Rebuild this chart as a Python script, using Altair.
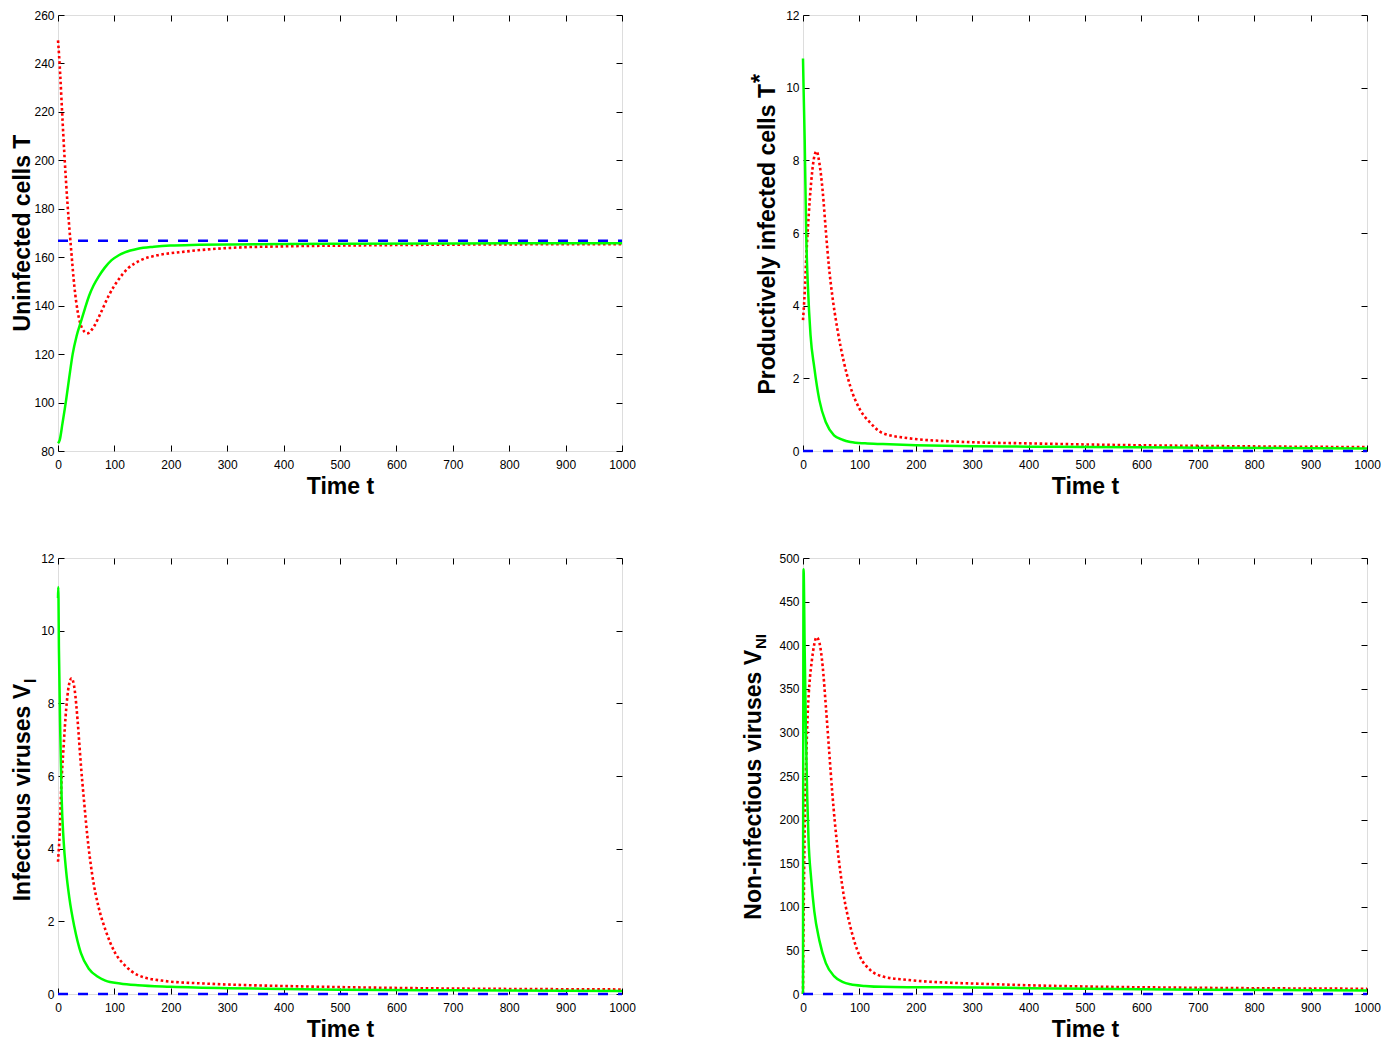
import altair as alt
import pandas as pd

W, H = 564, 436
FONT = "Liberation Sans"

x_ticks = list(range(0, 1001, 100))

# ---------------- Panel 1: Uninfected cells T ----------------
t1_green = [0, 3, 8, 14.5, 20, 26, 33, 40.5, 48, 55, 63, 72, 83, 95, 107, 118.5, 141.6, 170, 199, 250, 309, 400, 500, 700, 1000]
v1_green = [83.2, 84.5, 91.5, 101.2, 110.5, 120, 127.5, 133.3, 139, 144, 148.3, 152, 155.7, 158.8, 160.7, 162, 163.5, 164.3, 164.8, 165.1, 165.3, 165.5, 165.6, 165.7, 165.8]
t1_red = [0, 2, 4, 7.5, 11.5, 17, 23, 29, 35, 43, 52, 63.5, 75, 89.6, 107, 124, 147, 176, 217, 309, 400, 500, 700, 1000]
v1_red = [249.5, 243, 235, 219, 201.7, 181.6, 164, 148, 137.4, 130.6, 128.6, 131.3, 136.6, 144, 150.7, 155.4, 158.8, 160.8, 162.1, 163.9, 164.5, 164.8, 165.2, 165.4]
v1_blue = 166.8
y1_domain = [80, 260]
y1_ticks = list(range(80, 261, 20))

# ---------------- Panel 2: Productively infected cells T* ----------------
t2_green = [0, 1, 3, 5.8, 8.7, 13.3, 20, 29, 40.5, 55, 70, 84, 110, 141.6, 200, 302, 400, 500, 700, 1000]
v2_green = [10.8, 10.0, 8.56, 5.88, 4.54, 3.2, 2.3, 1.4, 0.79, 0.43, 0.31, 0.25, 0.21, 0.19, 0.16, 0.13, 0.12, 0.107, 0.09, 0.07]
t2_red = [0, 3, 5.8, 9.8, 14.5, 19, 24, 29, 35, 40.5, 46, 52, 60.7, 72, 84, 101, 118.5, 141.6, 188, 257, 302, 400, 500, 700, 850, 1000]
v2_red = [3.6, 4.36, 5.34, 6.41, 7.4, 8.02, 8.25, 7.93, 7.13, 6.06, 5.07, 4.27, 3.38, 2.48, 1.77, 1.14, 0.79, 0.49, 0.35, 0.27, 0.24, 0.21, 0.18, 0.14, 0.12, 0.107]
v2_blue = 0
y2_domain = [0, 12]
y2_ticks = list(range(0, 13, 2))

# ---------------- Panel 3: Infectious viruses V_I ----------------
t3_green = [0, 0.5, 1.7, 4, 6.4, 9.8, 14.5, 20, 29, 40.5, 55, 70, 84, 110, 141.6, 200, 302, 400, 500, 700, 1000]
v3_green = [10.9, 11.2, 9.45, 7.2, 5.43, 4.26, 3.37, 2.66, 1.85, 1.13, 0.69, 0.48, 0.37, 0.29, 0.24, 0.2, 0.16, 0.14, 0.12, 0.1, 0.08]
t3_red = [0, 3, 5.8, 9.8, 14.5, 19, 24, 29.5, 35, 40.5, 46, 52, 60.7, 72, 84, 101, 118.5, 141.6, 188, 257, 302, 400, 500, 700, 850, 1000]
v3_red = [3.64, 4.44, 5.7, 6.77, 7.84, 8.47, 8.69, 8.38, 7.48, 6.32, 5.34, 4.35, 3.28, 2.39, 1.77, 1.14, 0.79, 0.52, 0.36, 0.29, 0.26, 0.22, 0.19, 0.15, 0.135, 0.125]
v3_blue = 0
y3_domain = [0, 12]
y3_ticks = list(range(0, 13, 2))

# ---------------- Panel 4: Non-infectious viruses V_NI ----------------
t4_green = [0, 1, 3, 5.2, 7.5, 9.8, 14.5, 20, 29, 40.5, 55, 70, 84, 110, 141.6, 200, 302, 400, 500, 700, 1000]
v4_green = [0, 487, 394, 300, 226, 177, 132, 95, 61.5, 35.4, 20.5, 14, 11.2, 9.3, 8.2, 7.8, 7.5, 6.7, 6, 5, 4.1]
t4_red = [0, 1, 3, 5.8, 8.7, 11.5, 15.6, 20, 24, 29, 35, 40.5, 46, 52, 60.7, 72, 84, 101, 118.5, 141.6, 188, 257, 302, 400, 500, 700, 1000]
v4_red = [0, 80, 190, 270, 327, 356, 382, 401, 409, 403, 375, 330, 282, 230, 170, 114, 77, 43, 28, 20, 16, 13, 12, 10, 8.6, 7.1, 6]
v4_blue = 0
y4_domain = [0, 500]
y4_ticks = list(range(0, 501, 50))

titles = [
    ["Uninfected cells T", ""],
    ["Productively infected cells T", "*"],
    ["Infectious viruses V", "I"],
    ["Non-infectious viruses V", "NI"],
]
x_title = "Time t"


def xscale():
    return alt.Scale(domain=[0, 1000], nice=False, zero=False)


def make_panel(tg, vg, tr, vr, vb, ydom, yticks, title, sub, main_x, main_y, sub_x, sub_y, sub_size):
    ys = alt.Scale(domain=ydom, nice=False, zero=False)
    df_r = pd.DataFrame({"t": tr, "v": vr})
    df_g = pd.DataFrame({"t": tg, "v": vg})
    df_b = pd.DataFrame({"t": [0, 1000], "v": [vb, vb]})

    bottom = alt.Axis(orient="bottom", values=x_ticks, title=x_title, offset=-6, tickSize=6, format="d",
                      domain=False, grid=False, labelPadding=8, labelFlush=False, labelOverlap=False,
                      titleFontSize=23, titleFontWeight="bold", titlePadding=5, titleFont=FONT,
                      labelFont=FONT, labelFontSize=12, labelColor="black", tickColor="black",
                      titleColor="black")
    left = alt.Axis(orient="left", values=yticks, title=None, offset=-6, tickSize=6, format="d",
                    domain=False, grid=False, labelPadding=4, labelFlush=False, labelOverlap=False,
                    labelFont=FONT, labelFontSize=12, labelColor="black", tickColor="black")
    top = alt.Axis(orient="top", values=x_ticks, title=None, labels=False, offset=-6, tickSize=6,
                   domain=False, grid=False, tickColor="black", minExtent=0)
    right = alt.Axis(orient="right", values=yticks, title=None, labels=False, offset=-6, tickSize=6,
                     domain=False, grid=False, tickColor="black", minExtent=0)

    red = alt.Chart(df_r).mark_line(color="#FF0000", strokeWidth=2.6, strokeDash=[2.6, 2.6],
                                    interpolate="monotone", clip=False).encode(
        x=alt.X("t:Q", scale=xscale(), axis=bottom),
        y=alt.Y("v:Q", scale=ys, axis=left),
    )
    green = alt.Chart(df_g).mark_line(color="#00FF00", strokeWidth=2.5,
                                      interpolate="monotone", clip=False).encode(
        x=alt.X("t:Q", scale=xscale(), axis=top),
        y=alt.Y("v:Q", scale=ys, axis=right),
    )
    blue = alt.Chart(df_b).mark_line(color="#0000FF", strokeWidth=2.5, strokeDash=[10, 10],
                                     clip=False).encode(
        x=alt.X("t:Q", scale=xscale(), axis=None),
        y=alt.Y("v:Q", scale=ys, axis=None),
    )
    layers = [red, green, blue]
    if sub:
        main_txt = alt.Chart(pd.DataFrame({"s": [title]})).mark_text(
            angle=270, align="right", baseline="alphabetic", font=FONT, fontSize=23,
            fontWeight="bold", color="black").encode(text="s:N", x=alt.value(main_x), y=alt.value(main_y))
        sub_txt = alt.Chart(pd.DataFrame({"s": [sub]})).mark_text(
            angle=270, align="left", baseline="alphabetic", font=FONT, fontSize=sub_size,
            fontWeight="bold", color="black").encode(text="s:N", x=alt.value(sub_x), y=alt.value(sub_y))
        layers += [main_txt, sub_txt]
    else:
        main_txt = alt.Chart(pd.DataFrame({"s": [title]})).mark_text(
            angle=270, align="center", baseline="alphabetic", font=FONT, fontSize=23,
            fontWeight="bold", color="black").encode(text="s:N", x=alt.value(main_x), y=alt.value(main_y))
        layers += [main_txt]
    return alt.layer(*layers).resolve_axis(x="independent", y="independent").properties(width=W, height=H)


p1 = make_panel(t1_green, v1_green, t1_red, v1_red, v1_blue, y1_domain, y1_ticks,
                titles[0][0], titles[0][1], -28, H / 2, 0, 0, 0)
p2 = make_panel(t2_green, v2_green, t2_red, v2_red, v2_blue, y2_domain, y2_ticks,
                titles[1][0], titles[1][1], -28, 69, -35, 68, 23)
p3 = make_panel(t3_green, v3_green, t3_red, v3_red, v3_blue, y3_domain, y3_ticks,
                titles[2][0], titles[2][1], -28, 126, -22, 125, 16)
p4 = make_panel(t4_green, v4_green, t4_red, v4_red, v4_blue, y4_domain, y4_ticks,
                titles[3][0], titles[3][1], -42, 92, -37, 91, 15)

chart = alt.concat(p1, p2, p3, p4, columns=2, spacing={"row": 52, "column": 106}).properties(
    padding={"left": 3, "top": 0, "right": 0, "bottom": 0}
).configure_view(stroke="black", strokeWidth=1).configure(font=FONT)

chart.save("out.html", embed_options={"renderer": "svg", "actions": False})
